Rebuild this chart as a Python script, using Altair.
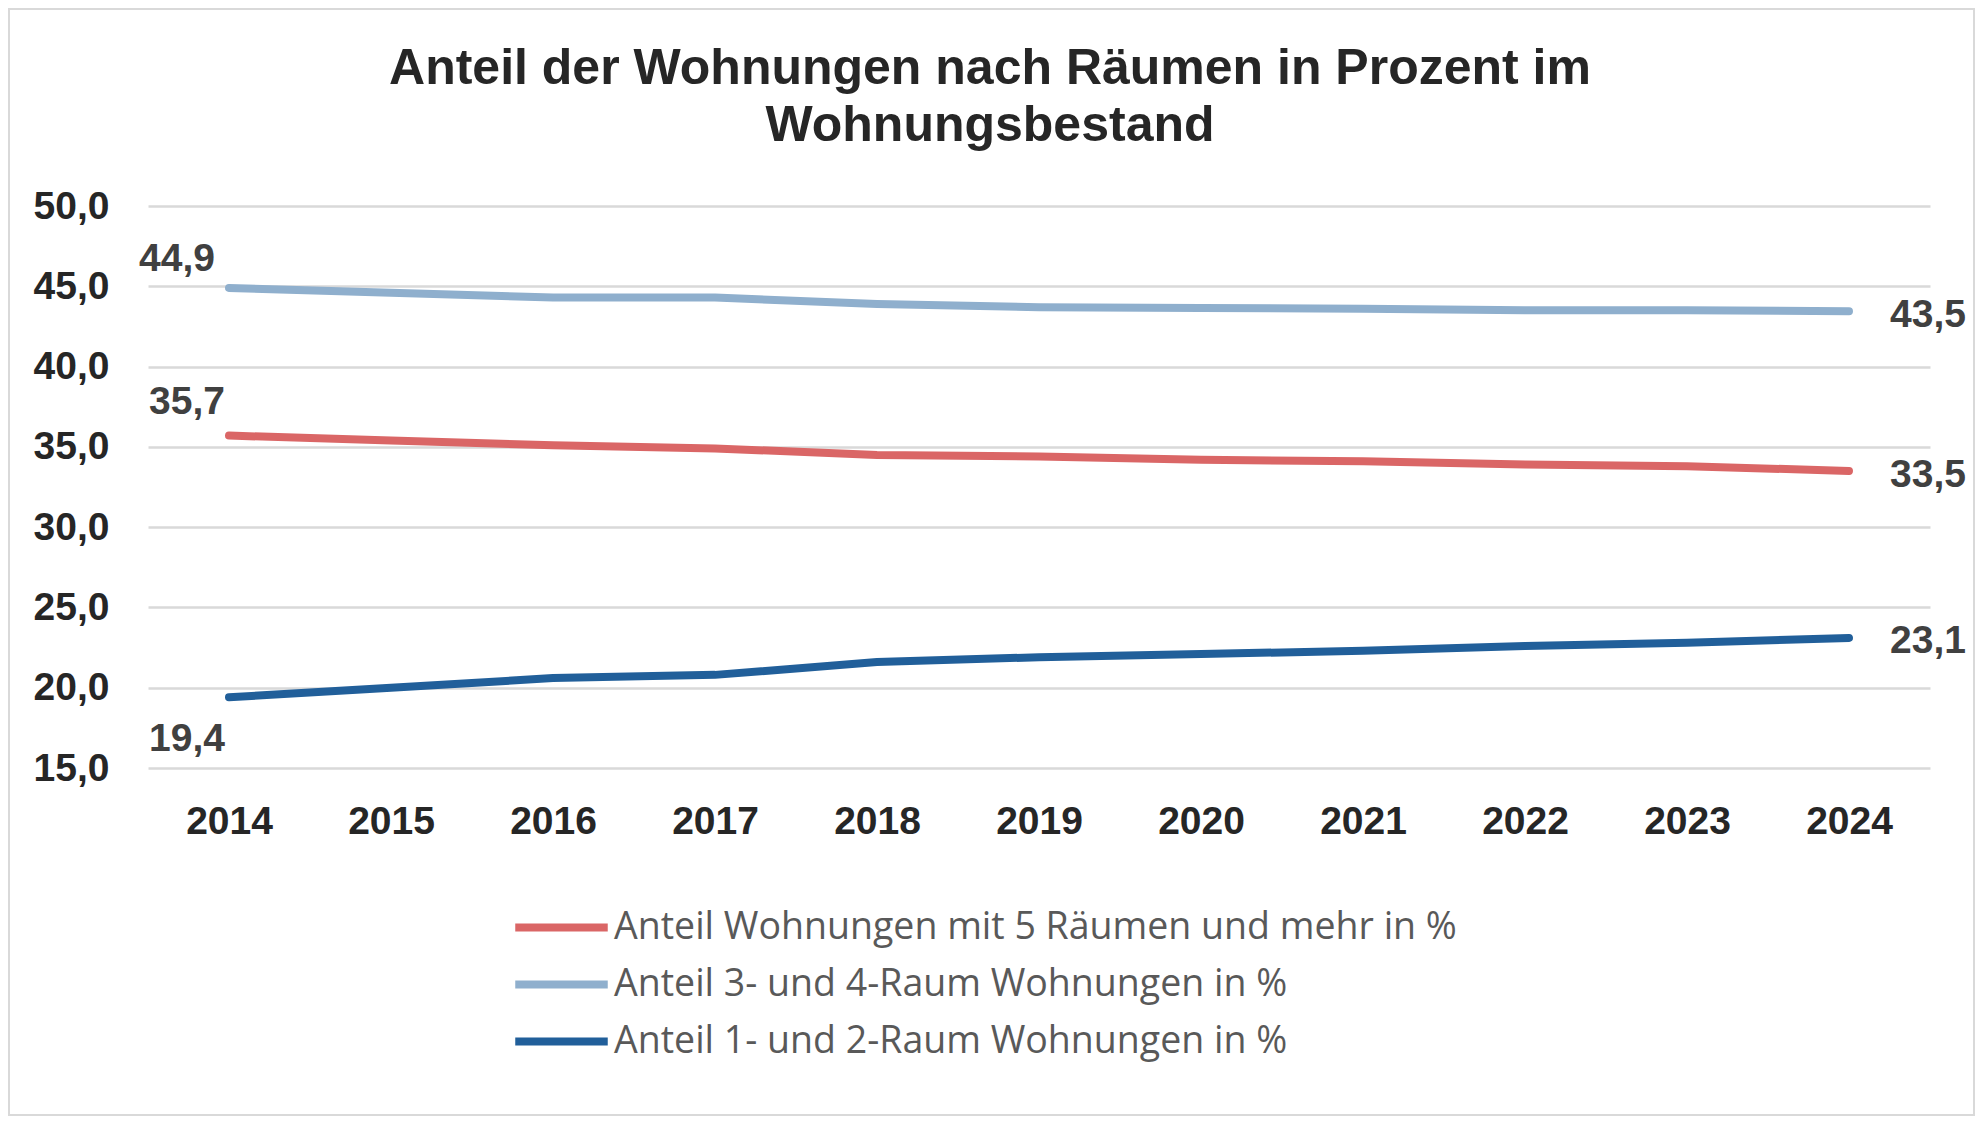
import altair as alt
import pandas as pd

years = [str(y) for y in range(2014, 2025)]
series_names = [
    "Anteil Wohnungen mit 5 Räumen und mehr in %",
    "Anteil 3- und 4-Raum Wohnungen in %",
    "Anteil 1- und 2-Raum Wohnungen in %",
]
share_5plus = [35.7, 35.4, 35.1, 34.9, 34.5, 34.4, 34.2, 34.1, 33.9, 33.8, 33.5]
share_3_4 = [44.9, 44.6, 44.3, 44.3, 43.9, 43.7, 43.65, 43.6, 43.5, 43.5, 43.45]
share_1_2 = [19.4, 20.0, 20.6, 20.8, 21.6, 21.9, 22.1, 22.3, 22.6, 22.8, 23.1]
colors = ["#DA6666", "#8FAFCD", "#215F9A"]
y_ticks = [15, 20, 25, 30, 35, 40, 45, 50]

rows = []
for name, vals in zip(series_names, [share_5plus, share_3_4, share_1_2]):
    for yr, v in zip(years, vals):
        rows.append({"year": yr, "series": name, "value": v})
df = pd.DataFrame(rows)

W, H = 1782, 562
PAD = {"left": 140, "top": 198, "right": 45, "bottom": 350}
FONT = "Liberation Sans"

base = alt.Chart(df).encode(
    x=alt.X(
        "year:O",
        sort=years,
        axis=alt.Axis(
            title=None, labelAngle=0, labelFont=FONT, labelFontSize=39,
            labelFontWeight="bold", labelColor="#262626", ticks=False,
            domain=False, grid=False, labelPadding=34,
        ),
    ),
    y=alt.Y(
        "value:Q",
        scale=alt.Scale(domain=[15, 50], nice=False, zero=False),
        axis=alt.Axis(
            title=None, values=y_ticks,
            labelExpr="replace(format(datum.value, '.1f'), '.', ',')",
            labelFont=FONT, labelFontSize=39, labelFontWeight="bold",
            labelColor="#262626", ticks=False, domain=False,
            gridColor="#D9D9D9", gridWidth=2.5, labelPadding=39,
        ),
    ),
)

lines = base.mark_line(strokeWidth=8, strokeCap="round", strokeJoin="round").encode(
    color=alt.Color(
        "series:N",
        sort=series_names,
        scale=alt.Scale(domain=series_names, range=colors),
        legend=alt.Legend(
            title=None, orient="none", legendX=363, legendY=699,
            direction="vertical", symbolType="stroke", symbolStrokeWidth=8,
            symbolSize=8556, clipHeight=45, rowPadding=12, labelOffset=2,
            labelFont="Open Sans", labelFontSize=37.5, labelColor="#595959",
            labelLimit=2000,
        ),
    )
)

lbl = "replace(format(datum.value, '.1f'), '.', ',')"
txt = dict(font=FONT, fontSize=39, fontWeight="bold", color="#404040", baseline="middle")


def label_layer(year, series, dx, dy, align):
    return (
        base.transform_filter(
            (alt.datum.year == year) & (alt.datum.series == series)
        )
        .transform_calculate(lbl=lbl)
        .mark_text(dx=dx, dy=dy, align=align, **txt)
        .encode(text="lbl:N")
    )


labels = [
    label_layer("2014", series_names[1], -52, -29, "center"),
    label_layer("2014", series_names[0], -42, -34, "center"),
    label_layer("2014", series_names[2], -42, 42, "center"),
    label_layer("2024", series_names[1], 41, 4, "left"),
    label_layer("2024", series_names[0], 41, 4, "left"),
    label_layer("2024", series_names[2], 41, 3, "left"),
]

border = alt.Chart(pd.DataFrame({"k": [0]})).mark_rect(
    filled=False, stroke="#D9D9D9", strokeWidth=2
).encode(
    x=alt.value(-PAD["left"] + 1),
    x2=alt.value(W + PAD["right"] - 1),
    y=alt.value(-PAD["top"] + 1),
    y2=alt.value(H + PAD["bottom"] - 3),
)

chart = alt.layer(border, lines, *labels).properties(
    width=W,
    height=H,
    padding=PAD,
    autosize=alt.AutoSizeParams(type="none"),
    background="white",
    title=alt.TitleParams(
        ["Anteil der Wohnungen nach Räumen in Prozent im", "Wohnungsbestand"],
        font=FONT, fontSize=50, fontWeight="bold", color="#262626",
        anchor="middle", dx=-49, dy=143, offset=0, lineHeight=57,
    ),
).configure_view(strokeWidth=0)

chart.save("out.html", embed_options={"renderer": "svg", "actions": False})
